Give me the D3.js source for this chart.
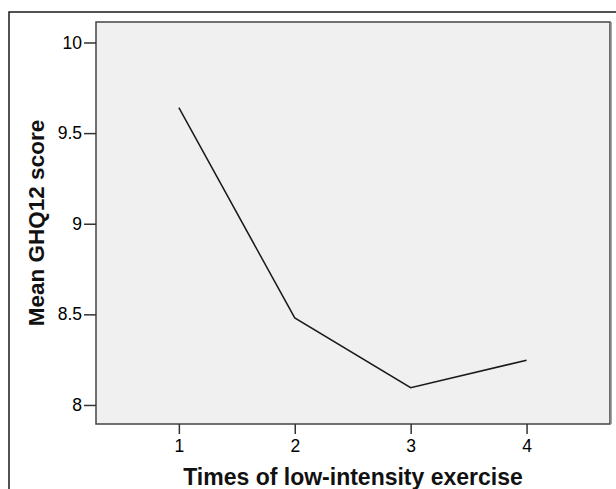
<!DOCTYPE html>
<html>
<head>
<meta charset="utf-8">
<script src="https://cdn.jsdelivr.net/npm/d3@7"></script>
<style>
  body { margin: 0; background: #fff; }
  svg { display: block; font-family: "Liberation Sans", Arial, sans-serif; }
</style>
</head>
<body>
<div id="chart"></div>
<script>
// data
const times = [1, 2, 3, 4];
const meanScores = [9.64, 8.48, 8.095, 8.247];
const yTicks = [8, 8.5, 9, 9.5, 10];

const width = 616;
const height = 489;
const plot = { left: 96, top: 22, right: 610, bottom: 424 };

const svg = d3.select('#chart').append('svg')
    .attr('width', width)
    .attr('height', height);

// outer frame
svg.append('rect')
    .attr('x', 9).attr('y', 12)
    .attr('width', width + 20).attr('height', height + 20)
    .attr('fill', '#fff')
    .attr('stroke', '#1a1a1a')
    .attr('stroke-width', 1.5);

const x = d3.scaleLinear()
    .domain([0.285, 4.72])
    .range([plot.left, plot.right]);

const y = d3.scaleLinear()
    .domain([7.895, 10.113])
    .range([plot.bottom, plot.top]);

// plot background
svg.append('rect')
    .attr('x', plot.left).attr('y', plot.top)
    .attr('width', plot.right - plot.left)
    .attr('height', plot.bottom - plot.top)
    .attr('fill', '#f0f0f0')
    .attr('stroke', '#444')
    .attr('stroke-width', 1.5);

// shadowed right edge
svg.append('line')
    .attr('x1', plot.right + 1).attr('x2', plot.right + 1)
    .attr('y1', plot.top).attr('y2', plot.bottom)
    .attr('stroke', '#888')
    .attr('stroke-width', 1.5);

const yAxis = svg.append('g')
    .attr('transform', 'translate(' + plot.left + ',0)')
    .call(d3.axisLeft(y).tickValues(yTicks).tickSize(12).tickPadding(2).tickFormat(d3.format('')));

const xAxis = svg.append('g')
    .attr('transform', 'translate(0,' + plot.bottom + ')')
    .call(d3.axisBottom(x).tickValues(times).tickSize(10).tickPadding(6).tickFormat(d3.format('d')));

[xAxis, yAxis].forEach(function(g) {
    g.attr('font-size', 17.5)
        .attr('font-family', '"Liberation Sans", Arial, sans-serif');
    g.select('.domain').remove();
    g.selectAll('.tick line').attr('stroke', '#333').attr('stroke-width', 1.5);
    g.selectAll('.tick text').attr('fill', '#000');
});

// mean line
const line = d3.line()
    .x((d, i) => x(times[i]))
    .y(d => y(d));

svg.append('path')
    .datum(meanScores)
    .attr('d', line)
    .attr('fill', 'none')
    .attr('stroke', '#1a1a1a')
    .attr('stroke-width', 1.5);

// axis titles
svg.append('text')
    .attr('x', (plot.left + plot.right) / 2)
    .attr('y', 485)
    .attr('text-anchor', 'middle')
    .attr('font-size', 23)
    .attr('font-weight', 'bold')
    .attr('fill', '#111')
    .text('Times of low-intensity exercise');

svg.append('text')
    .attr('transform', 'translate(44,' + ((plot.top + plot.bottom) / 2) + ') rotate(-90)')
    .attr('text-anchor', 'middle')
    .attr('font-size', 22.5)
    .attr('font-weight', 'bold')
    .attr('fill', '#111')
    .text('Mean GHQ12 score');
</script>
</body>
</html>
